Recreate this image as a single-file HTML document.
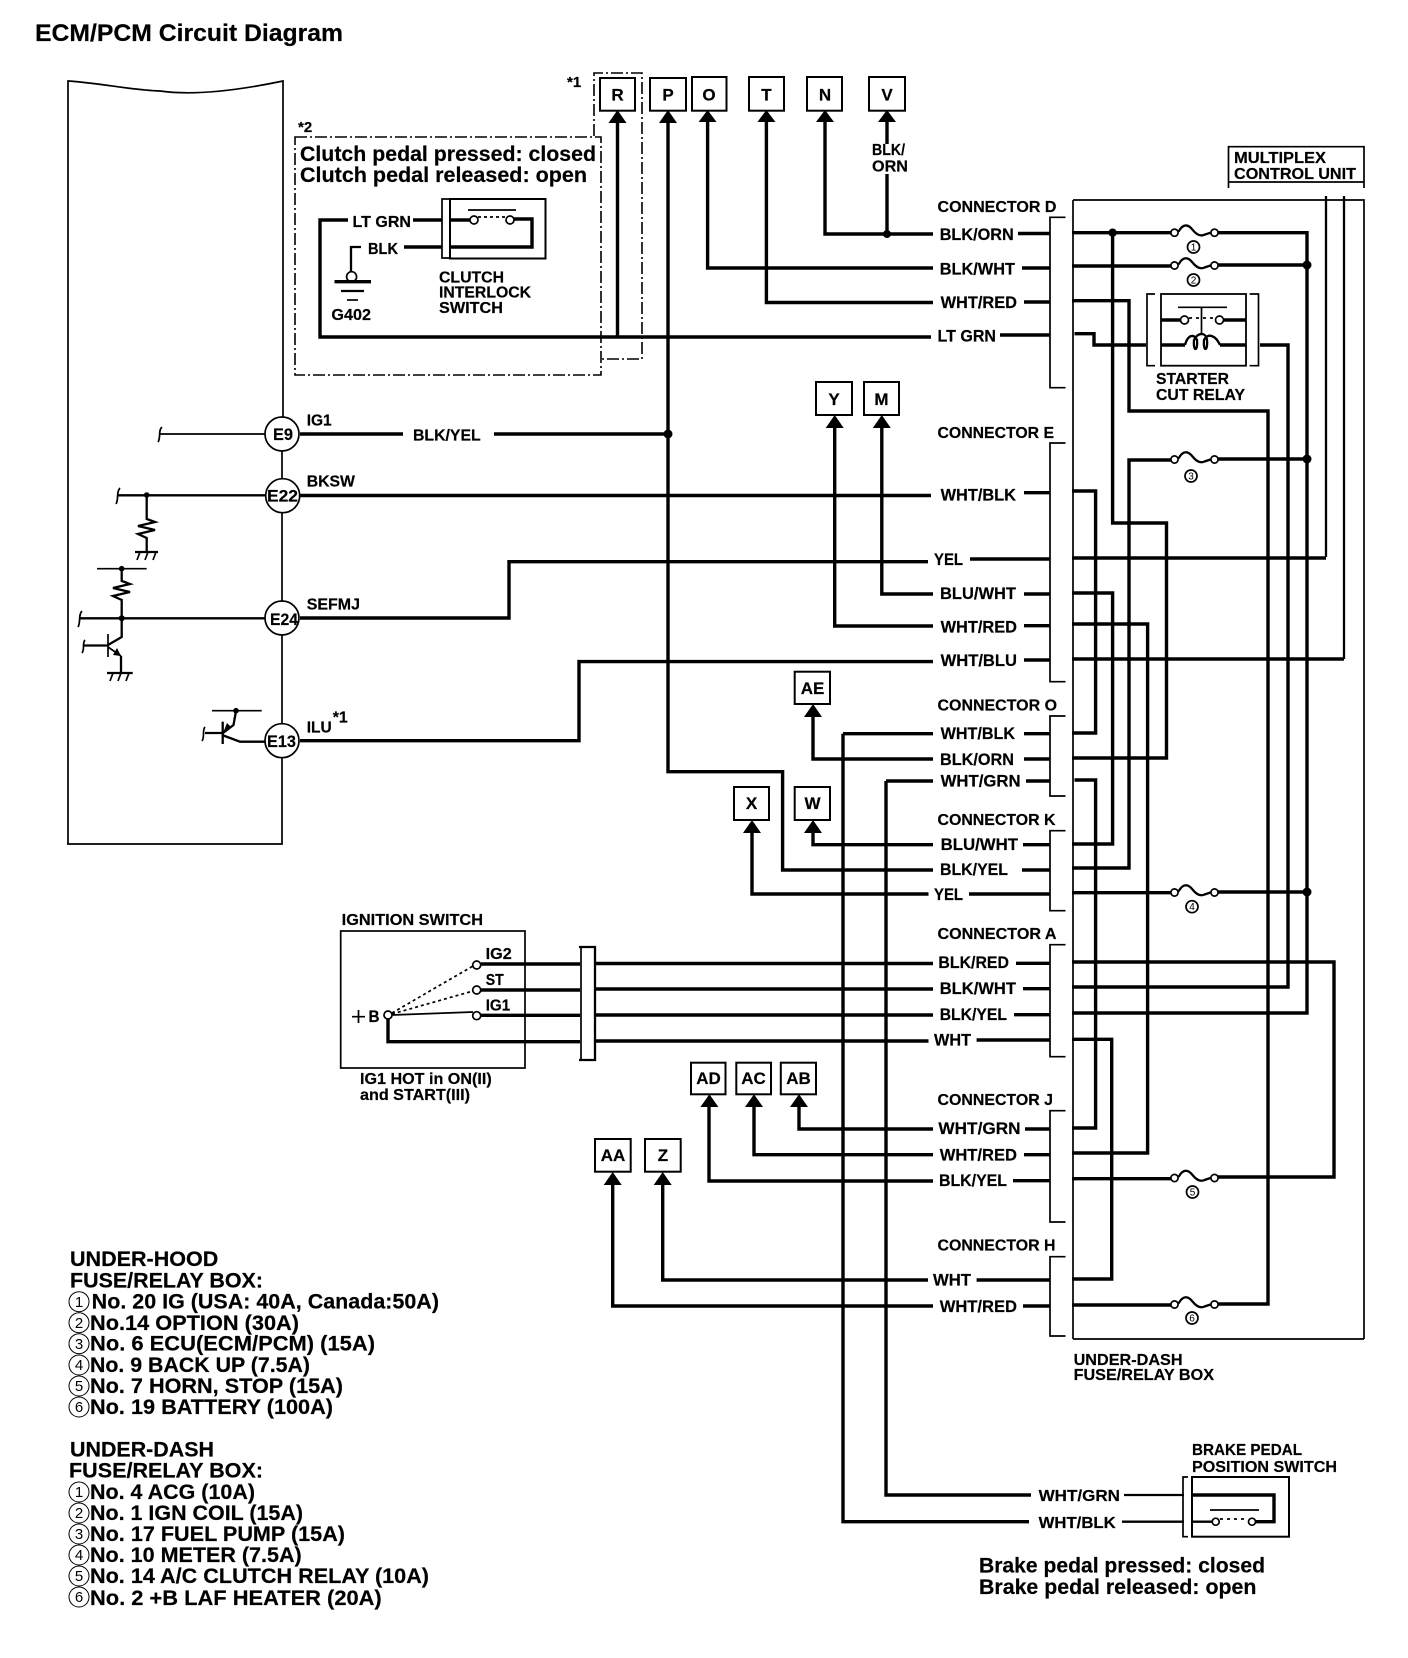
<!DOCTYPE html>
<html><head><meta charset="utf-8"><style>
html,body{margin:0;padding:0;background:#fff}
svg{display:block}
text{font-family:"Liberation Sans",sans-serif;font-weight:bold;fill:#000;stroke:#000;stroke-width:.2}
.w{fill:none;stroke:#000;stroke-width:3.4}
.m{fill:none;stroke:#000;stroke-width:2.3}
.n{fill:none;stroke:#000;stroke-width:1.7}
.d{fill:none;stroke:#000;stroke-width:1.6;stroke-dasharray:12 3 2 3}
.b{fill:#fff;stroke:#000;stroke-width:2}
.c{fill:#fff;stroke:#000;stroke-width:1.7}
.l{font-size:16px}
.s{font-size:17px}
.g{font-size:21px}
.q{font-weight:normal;font-size:10px;text-anchor:middle;stroke-width:0}
.q2{font-weight:normal;font-size:15px;text-anchor:middle;stroke-width:0}
.x{font-size:17px;text-anchor:middle}
</style></head><body>
<svg xmlns="http://www.w3.org/2000/svg" width="1408" height="1658" viewBox="0 0 1408 1658">
<rect width="1408" height="1658" fill="#fff"/>
<text x="35" y="41" font-size="24" textLength="308" lengthAdjust="spacingAndGlyphs">ECM/PCM Circuit Diagram</text>

<!-- ECM box -->
<path class="n" d="M68 844 V81 C100 83 130 90 160 91 C195 96 240 90 283 81 V417 M282 451 V478 M282 513 V601 M282 635 V724 M282 758 V844 H67"/>

<!-- Dashed boxes -->
<path class="d" d="M295 137 H601 V375 H295 Z"/>
<path class="d" d="M594 136 V73 H642 V359 H601"/>
<text x="567" y="87" font-size="15">*1</text>
<text x="298" y="132" font-size="15">*2</text>
<text x="300" y="161" font-size="21" textLength="296" lengthAdjust="spacingAndGlyphs">Clutch pedal pressed: closed</text>
<text x="300" y="182" font-size="21" textLength="287" lengthAdjust="spacingAndGlyphs">Clutch pedal released: open</text>

<!-- Clutch switch -->
<path class="w" d="M348 220 H320 V337 H931"/>
<path class="w" d="M413 220 H442 M404 247 H442"/>
<path class="n" d="M450 199 H442 V258 H450"/>
<rect x="450" y="199" width="95.5" height="59.5" fill="none" stroke="#000" stroke-width="2"/>
<path class="w" d="M450 220 H470 M514 219 H532 V247 H450"/>
<path class="n" d="M468 210 H516"/>
<path class="n" stroke-dasharray="3 3" d="M478 217 H506"/>
<circle class="c" cx="474" cy="220" r="4"/><circle class="c" cx="510" cy="220" r="4"/>
<path class="m" d="M361 247 H351 V272"/>
<circle class="c" cx="351.6" cy="276.7" r="5"/>
<path class="w" d="M334.5 281.7 H371"/><path class="m" d="M341 291 H364"/><path class="n" d="M347 300 H358"/>
<text x="352.5" y="227" class="l" textLength="58.5" lengthAdjust="spacingAndGlyphs">LT GRN</text>
<text x="368" y="254" class="l" textLength="30" lengthAdjust="spacingAndGlyphs">BLK</text>
<text x="331.4" y="320" class="l" textLength="39.6" lengthAdjust="spacingAndGlyphs">G402</text>
<text x="439" y="282.7" class="l" textLength="65" lengthAdjust="spacingAndGlyphs">CLUTCH</text>
<text x="439" y="297.7" class="l" textLength="92" lengthAdjust="spacingAndGlyphs">INTERLOCK</text>
<text x="439" y="313" class="l" textLength="64" lengthAdjust="spacingAndGlyphs">SWITCH</text>

<!-- Top wires -->
<path class="w" d="M617.5 120 V337"/>
<path class="w" d="M668 120 V771.7 H782.6 V870 H933"/>
<path class="w" d="M707.6 120 V268 H933"/>
<path class="w" d="M766.4 120 V302.5 H933"/>
<path class="w" d="M825 120 V234 H933"/>
<path class="w" d="M887 120 V144 M887 174 V234"/>
<circle cx="887" cy="234" r="4"/>
<circle cx="668" cy="434" r="4.5"/>
<text x="872" y="155" class="l" textLength="33" lengthAdjust="spacingAndGlyphs">BLK/</text>
<text x="872" y="171.7" class="l" textLength="36" lengthAdjust="spacingAndGlyphs">ORN</text>

<!-- Left-side wires -->
<path class="w" d="M300 434 H403 M494 434 H668"/>
<path class="w" d="M300 495.5 H931"/>
<path class="w" d="M300 618 H509 V561.7 H928"/>
<path class="w" d="M300 740.7 H579 V661.6 H933"/>
<path class="w" d="M834.7 425 V626 H933"/>
<path class="w" d="M881.8 425 V594 H933"/>
<path class="w" d="M813 715 V759 H933"/>
<path class="w" d="M843 733.7 H933 M843 733.7 V1521.7 H1029"/>
<path class="w" d="M886 781 H933 M886 781 V1495 H1031"/>
<path class="w" d="M813 832 V844.7 H933"/>
<path class="w" d="M752 832 V894 H928.5"/>
<path class="w" d="M709 1105 V1181 H933"/>
<path class="w" d="M754 1105 V1154.7 H933"/>
<path class="w" d="M799 1105 V1129 H933"/>
<path class="w" d="M662.7 1182 V1280 H928"/>
<path class="w" d="M612.7 1182 V1306 H933"/>

<!-- Ignition wires -->
<path class="w" d="M481 964 H580 M481 990 H580 M481 1015.3 H580 M388 1019 V1041.7 H580"/>
<path class="w" d="M595 963.5 H933 M595 989 H933 M595 1015 H933 M595 1041 H928.5"/>

<!-- Stubs -->
<path class="w" d="M1018 233.5 H1050 M1022 268 H1050 M1024 302 H1050 M1000 335 H1050
M1024 492.7 H1050 M970 559 H1050 M1024 594 H1050 M1024 625.7 H1050 M1024 660 H1050
M1024 733.7 H1050 M1024 759 H1050 M1026 781 H1050
M1023 844.7 H1050 M1022 870 H1050 M969 894 H1050
M1016 963.3 H1050 M1023 988.7 H1050 M1014 1014.7 H1050 M976.6 1040 H1050
M1025 1129 H1050 M1024 1154.7 H1050 M1013 1180.7 H1050
M976.6 1280 H1050 M1023 1306 H1050"/>

<!-- Connector brackets -->
<path class="n" d="M1065.5 217.3 H1050 V387.7 H1065.5 M1065.5 443 H1050 V681.7 H1065.5 M1065.5 716 H1050 V796 H1065.5 M1065.5 830.7 H1050 V910.7 H1065.5 M1065.5 944.7 H1050 V1056.7 H1065.5 M1065.5 1110.7 H1050 V1222 H1065.5 M1065.5 1256.7 H1050 V1336 H1065.5"/>

<!-- Fuse box -->
<path class="n" d="M1073 200 H1364 V1339"/>
<path class="n" d="M1073 200 V1339"/>
<path class="w" d="M1073 1339 H1364" style="stroke-width:1.8"/>
<path class="n" d="M1228.5 188 V146.7 H1364 V188 M1228.5 182 H1364"/>
<text x="1234" y="163" class="l" textLength="92" lengthAdjust="spacingAndGlyphs">MULTIPLEX</text>
<text x="1234" y="179" class="l" textLength="122" lengthAdjust="spacingAndGlyphs">CONTROL UNIT</text>

<!-- Inside fuse box wires -->
<path class="m" d="M1326 196 V557 M1344 196 V659"/>
<path class="w" d="M1072 232.7 H1171 M1218 232.7 H1307 V1013 H1072"/>
<path class="w" d="M1112.6 232.7 V523 H1166.5 V758 H1072"/>
<path class="w" d="M1072 266 H1171 M1218 265 H1307"/>
<path class="w" d="M1072 300.7 H1129 V411 H1268 V1304 H1218"/>
<path class="w" d="M1074.5 333.7 H1094 V345 H1146"/>
<path class="w" d="M1260 345 H1288 V987 H1072"/>
<path class="w" d="M1171 460 H1129 V868 H1072 M1218 459 H1307"/>
<path class="w" d="M1072 491 H1095.6 V733 H1072"/>
<path class="w" d="M1072 558 H1326"/>
<path class="w" d="M1072 593 H1112.6 V844 H1072"/>
<path class="w" d="M1072 624 H1147.6 V1153 H1072"/>
<path class="w" d="M1072 659 H1344"/>
<path class="w" d="M1074.5 780 H1095.6 V1128 H1072"/>
<path class="w" d="M1072 892.7 H1171 M1218 892 H1307"/>
<path class="w" d="M1072 962 H1334 V1177 H1218"/>
<path class="w" d="M1072 1178.7 H1171"/>
<path class="w" d="M1072 1039.3 H1111.7 V1279 H1072"/>
<path class="w" d="M1072 1305 H1171"/>
<circle cx="1112.6" cy="232.7" r="4.2"/>
<circle cx="1307" cy="265" r="4.5"/>
<circle cx="1307" cy="459" r="4.5"/>
<circle cx="1307" cy="892" r="4.5"/>

<!-- Fuses -->
<defs><g id="f"><path class="m" d="M4 -1 C9 -10 14 -8 18 -3 S26 4 30 2 L36 0"/><circle class="c" cx="0" cy="0" r="3.6"/><circle class="c" cx="40" cy="0" r="3.6"/></g></defs>
<use href="#f" x="1174.5" y="232.7"/><use href="#f" x="1174.5" y="265.5"/><use href="#f" x="1174.5" y="459.5"/><use href="#f" x="1174.5" y="892.5"/><use href="#f" x="1174.5" y="1178"/><use href="#f" x="1174.5" y="1304.5"/>
<g>
<circle class="n" cx="1193.5" cy="247" r="6"/><circle class="n" cx="1193.5" cy="280" r="6"/><circle class="n" cx="1191" cy="476" r="6"/><circle class="n" cx="1192" cy="906.7" r="6"/><circle class="n" cx="1192.5" cy="1192" r="6"/><circle class="n" cx="1192" cy="1318" r="6"/>
</g>
<text class="q" x="1193.5" y="250.5">1</text><text class="q" x="1193.5" y="283.5">2</text><text class="q" x="1191" y="479.5">3</text><text class="q" x="1192" y="910">4</text><text class="q" x="1192.5" y="1195.5">5</text><text class="q" x="1192" y="1321.5">6</text>

<!-- Relay -->
<path class="n" d="M1155 294 H1147 V365.7 H1155 M1249.6 294 H1258.5 V365.7 H1249.6"/>
<rect x="1161" y="294" width="85" height="71.7" fill="none" stroke="#000" stroke-width="1.8"/>
<path class="w" d="M1161 320 H1180 M1224 320 H1246 M1161 345 H1185 M1220 345 H1246"/>
<path class="n" d="M1178 307.3 H1227 M1201.5 307.3 V335"/>
<path class="n" stroke-dasharray="3 4" d="M1189 318 H1215"/>
<circle class="c" cx="1184.5" cy="320" r="4"/><circle class="c" cx="1219.5" cy="320" r="4"/>
<path class="m" d="M1185 345 C1188 334 1194 334 1197 340 C1198 352 1193 352 1194 340 C1198 332 1206 332 1207 340 C1208 352 1203 352 1204 340 C1208 332 1216 336 1220 345"/>
<text x="1156" y="384" class="l" textLength="73" lengthAdjust="spacingAndGlyphs">STARTER</text>
<text x="1156" y="400" class="l" textLength="89" lengthAdjust="spacingAndGlyphs">CUT RELAY</text>

<!-- Ignition switch -->
<text x="341.7" y="925" class="l" textLength="141.3" lengthAdjust="spacingAndGlyphs">IGNITION SWITCH</text>
<rect x="340.7" y="931" width="184.3" height="137" fill="none" stroke="#000" stroke-width="1.7"/>
<path d="M392 1013 L473 966 M392 1014 L473 991" fill="none" stroke="#000" stroke-width="1.7" stroke-dasharray="3 3"/>
<path class="n" d="M392 1015 L473 1012"/>
<circle class="c" cx="388" cy="1015" r="4"/><circle class="c" cx="476.7" cy="965" r="4"/><circle class="c" cx="476.7" cy="990" r="4"/><circle class="c" cx="476.7" cy="1015.7" r="4"/>
<text x="485.7" y="959" class="l" textLength="26" lengthAdjust="spacingAndGlyphs">IG2</text>
<text x="485.7" y="985" class="l" textLength="18" lengthAdjust="spacingAndGlyphs">ST</text>
<text x="485.7" y="1010.7" class="l" textLength="24.5" lengthAdjust="spacingAndGlyphs">IG1</text>
<path class="n" d="M352 1016.7 H365 M358.5 1010 V1023"/>
<text x="368.5" y="1022" font-size="17" textLength="11" lengthAdjust="spacingAndGlyphs">B</text>
<path class="n" d="M581 946.7 V1060"/>
<path class="m" d="M579 947 H595 V1060 H579"/>
<text x="360" y="1084" class="l" textLength="131.7" lengthAdjust="spacingAndGlyphs">IG1 HOT in ON(II)</text>
<text x="360" y="1100" class="l" textLength="110" lengthAdjust="spacingAndGlyphs">and START(III)</text>

<!-- ECM internals -->
<path class="n" d="M160 434 H265"/>
<path class="n" d="M162 427 C158 430 161 438 158 442"/>
<path class="m" d="M118 495.3 H265 M146.7 495 V519 L155 522 L138 526 L155 530 L138 534 L146.7 538 V551.7"/>
<path class="n" d="M120 488 C116 492 119 499 116 504"/>
<circle cx="146.7" cy="495" r="2.8"/>
<path class="m" d="M135 552 H158"/><path class="n" d="M140 552 L137 560 M148 552 L145 560 M156 552 L153 560"/>
<path class="n" d="M97 568.7 H146.7"/>
<circle cx="121.7" cy="568.7" r="2.8"/>
<path class="m" d="M121.7 568.7 V581 L130 584 L113 588 L130 592 L113 596 L121.7 600 V637 L108 645"/>
<path class="m" d="M80 618.3 H265"/>
<path class="n" d="M82 611 C78 615 81 622 78 627"/>
<circle cx="121.7" cy="618.3" r="3"/>
<path class="n" d="M108 634 V657"/>
<path class="m" d="M83 645.5 H108"/>
<path class="n" d="M85 640 C82 643 85 649 82 653"/>
<path class="n" d="M108 647 L121 656"/>
<polygon points="121,656 113,655 117,648"/>
<path class="m" d="M121 656 V672.7"/>
<path class="m" d="M107 673 H132.7"/><path class="n" d="M113 673 L110 681 M121 673 L118 681 M129 673 L126 681"/>
<path class="n" d="M212 710.7 H261.7"/>
<circle cx="236" cy="710.7" r="2.8"/>
<path class="m" d="M236 711 L233.5 725 L223 733"/>
<polygon points="223,733 231,727 227,723"/>
<path class="m" d="M222.7 721.7 V744"/>
<path class="m" d="M205 733 H222"/>
<path class="n" d="M205 727 C202 730 205 737 202 741"/>
<path class="m" d="M222 735 L240 741.7 H265"/>
<circle class="c" cx="282" cy="434" r="17"/><circle class="c" cx="282.7" cy="495.7" r="17"/><circle class="c" cx="282" cy="618" r="17"/><circle class="c" cx="282" cy="740.7" r="17"/>
<text x="273" y="440" class="s" textLength="20" lengthAdjust="spacingAndGlyphs">E9</text>
<text x="267" y="501.7" class="s" textLength="31" lengthAdjust="spacingAndGlyphs">E22</text>
<text x="270" y="625" class="s" textLength="28" lengthAdjust="spacingAndGlyphs">E24</text>
<text x="267" y="747" class="s" textLength="29" lengthAdjust="spacingAndGlyphs">E13</text>
<text x="306.7" y="425.7" class="l" textLength="25" lengthAdjust="spacingAndGlyphs">IG1</text>
<text x="413" y="440.7" class="l" textLength="67.7" lengthAdjust="spacingAndGlyphs">BLK/YEL</text>
<text x="306.7" y="486.7" class="l" textLength="48.3" lengthAdjust="spacingAndGlyphs">BKSW</text>
<text x="306.7" y="609.3" class="l" textLength="53.3" lengthAdjust="spacingAndGlyphs">SEFMJ</text>
<text x="306.7" y="732.3" class="l" textLength="25" lengthAdjust="spacingAndGlyphs">ILU</text>
<text x="332.7" y="722.7" class="l" textLength="15" lengthAdjust="spacingAndGlyphs">*1</text>

<!-- Boxes + arrows -->
<g>
<rect class="b" x="600" y="78" width="35" height="32.7"/><rect class="b" x="650" y="78" width="36" height="32.7"/><rect class="b" x="692" y="77" width="34.5" height="33.7"/><rect class="b" x="749" y="77" width="35" height="33.7"/><rect class="b" x="807" y="77" width="35" height="33.7"/><rect class="b" x="869" y="77" width="36" height="33.7"/>
<rect class="b" x="816" y="382" width="36" height="33"/><rect class="b" x="864" y="382" width="35" height="33"/>
<rect class="b" x="794.7" y="671.7" width="35.3" height="32.3"/><rect class="b" x="734" y="787" width="35" height="33"/><rect class="b" x="794.7" y="787" width="35.3" height="33"/>
<rect class="b" x="691" y="1062.7" width="34.5" height="31.6"/><rect class="b" x="736.3" y="1062.7" width="34.7" height="31.6"/><rect class="b" x="780.8" y="1062.7" width="35.2" height="31.6"/>
<rect class="b" x="595" y="1139" width="35.7" height="32.7"/><rect class="b" x="645" y="1139" width="35.7" height="32.7"/>
</g>
<g>
<polygon points="617.5,110 626.5,123 608.5,123"/><polygon points="668,110 677,123 659,123"/><polygon points="707.6,110 716.6,122 698.6,122"/><polygon points="766.4,110 775.4,122 757.4,122"/><polygon points="825,110 834,122 816,122"/><polygon points="887,110 896,122 878,122"/>
<polygon points="834.7,415 843.7,428 825.7,428"/><polygon points="881.8,415 890.8,428 872.8,428"/>
<polygon points="813,704 822,717 804,717"/><polygon points="752,820 761,833 743,833"/><polygon points="813,820 822,833 804,833"/>
<polygon points="709.4,1094.3 718.4,1107 700.4,1107"/><polygon points="754,1094.3 763,1107 745,1107"/><polygon points="799,1094.3 808,1107 790,1107"/>
<polygon points="612.7,1172 621.7,1185 603.7,1185"/><polygon points="662.7,1172 671.7,1185 653.7,1185"/>
</g>
<text class="x" x="617.5" y="100.7">R</text><text class="x" x="668" y="100.7">P</text><text class="x" x="709" y="100.7">O</text><text class="x" x="766.4" y="100.7">T</text><text class="x" x="825" y="100.7">N</text><text class="x" x="887" y="100.7">V</text>
<text class="x" x="834" y="405">Y</text><text class="x" x="881.5" y="405">M</text>
<text class="x" x="812.5" y="694">AE</text><text class="x" x="751.5" y="809">X</text><text class="x" x="812.5" y="809">W</text>
<text class="x" x="708.5" y="1084">AD</text><text class="x" x="753.5" y="1084">AC</text><text class="x" x="798.5" y="1084">AB</text>
<text class="x" x="613" y="1161">AA</text><text class="x" x="663" y="1161">Z</text>

<!-- Wire labels -->
<text x="937.5" y="212" class="l" textLength="119" lengthAdjust="spacingAndGlyphs">CONNECTOR D</text>
<text x="939.7" y="240" class="s" textLength="74" lengthAdjust="spacingAndGlyphs">BLK/ORN</text>
<text x="939.7" y="274.7" class="s" textLength="75.3" lengthAdjust="spacingAndGlyphs">BLK/WHT</text>
<text x="940.6" y="308" class="s" textLength="76.4" lengthAdjust="spacingAndGlyphs">WHT/RED</text>
<text x="937.5" y="341.7" class="s" textLength="58.5" lengthAdjust="spacingAndGlyphs">LT GRN</text>
<text x="937.5" y="438" class="l" textLength="116.5" lengthAdjust="spacingAndGlyphs">CONNECTOR E</text>
<text x="940.6" y="500.7" class="s" textLength="75.4" lengthAdjust="spacingAndGlyphs">WHT/BLK</text>
<text x="934" y="565" class="s" textLength="29" lengthAdjust="spacingAndGlyphs">YEL</text>
<text x="940" y="599" class="s" textLength="76" lengthAdjust="spacingAndGlyphs">BLU/WHT</text>
<text x="940.6" y="632.7" class="s" textLength="76.4" lengthAdjust="spacingAndGlyphs">WHT/RED</text>
<text x="940.6" y="666" class="s" textLength="76.4" lengthAdjust="spacingAndGlyphs">WHT/BLU</text>
<text x="937.5" y="710.7" class="l" textLength="119.5" lengthAdjust="spacingAndGlyphs">CONNECTOR O</text>
<text x="940.6" y="739" class="s" textLength="74.4" lengthAdjust="spacingAndGlyphs">WHT/BLK</text>
<text x="940" y="765" class="s" textLength="74" lengthAdjust="spacingAndGlyphs">BLK/ORN</text>
<text x="940.6" y="786.7" class="s" textLength="80" lengthAdjust="spacingAndGlyphs">WHT/GRN</text>
<text x="937.5" y="825" class="l" textLength="118" lengthAdjust="spacingAndGlyphs">CONNECTOR K</text>
<text x="940.6" y="850" class="s" textLength="77.4" lengthAdjust="spacingAndGlyphs">BLU/WHT</text>
<text x="940" y="875" class="s" textLength="68" lengthAdjust="spacingAndGlyphs">BLK/YEL</text>
<text x="934" y="900" class="s" textLength="29" lengthAdjust="spacingAndGlyphs">YEL</text>
<text x="937.5" y="939" class="l" textLength="119" lengthAdjust="spacingAndGlyphs">CONNECTOR A</text>
<text x="938.4" y="968" class="s" textLength="70.6" lengthAdjust="spacingAndGlyphs">BLK/RED</text>
<text x="939.7" y="994" class="s" textLength="76.3" lengthAdjust="spacingAndGlyphs">BLK/WHT</text>
<text x="939.7" y="1020" class="s" textLength="67.3" lengthAdjust="spacingAndGlyphs">BLK/YEL</text>
<text x="934" y="1045.7" class="s" textLength="37" lengthAdjust="spacingAndGlyphs">WHT</text>
<text x="937.5" y="1105" class="l" textLength="115.5" lengthAdjust="spacingAndGlyphs">CONNECTOR J</text>
<text x="938.4" y="1134" class="s" textLength="82.2" lengthAdjust="spacingAndGlyphs">WHT/GRN</text>
<text x="939.7" y="1160.7" class="s" textLength="77.3" lengthAdjust="spacingAndGlyphs">WHT/RED</text>
<text x="939" y="1186" class="s" textLength="68" lengthAdjust="spacingAndGlyphs">BLK/YEL</text>
<text x="937.5" y="1250.7" class="l" textLength="118" lengthAdjust="spacingAndGlyphs">CONNECTOR H</text>
<text x="933" y="1285.7" class="s" textLength="38" lengthAdjust="spacingAndGlyphs">WHT</text>
<text x="939.7" y="1312" class="s" textLength="77.3" lengthAdjust="spacingAndGlyphs">WHT/RED</text>
<text x="1073.6" y="1365" class="l" textLength="109" lengthAdjust="spacingAndGlyphs">UNDER-DASH</text>
<text x="1073.6" y="1380" class="l" textLength="140.4" lengthAdjust="spacingAndGlyphs">FUSE/RELAY BOX</text>

<!-- Brake switch -->
<text x="1192" y="1455" class="l" textLength="110" lengthAdjust="spacingAndGlyphs">BRAKE PEDAL</text>
<text x="1192" y="1472" class="l" textLength="145" lengthAdjust="spacingAndGlyphs">POSITION SWITCH</text>
<path class="n" d="M1188 1477 H1183 V1536.7 H1188"/>
<rect x="1192" y="1477" width="97" height="59.7" fill="none" stroke="#000" stroke-width="2"/>
<path class="w" d="M1192 1495 H1274 V1521.7 H1256"/>
<path class="m" d="M1124 1495 H1184 M1122 1521.7 H1184 M1192 1521.7 H1212"/>
<path class="n" d="M1210 1510 H1259"/>
<path class="n" stroke-dasharray="3 4" d="M1220 1519 H1248"/>
<circle class="c" cx="1215.7" cy="1521.7" r="3.5"/><circle class="c" cx="1252" cy="1521.7" r="3.5"/>
<text x="1038.6" y="1501" class="l" textLength="81.4" lengthAdjust="spacingAndGlyphs">WHT/GRN</text>
<text x="1038.6" y="1528" class="l" textLength="77.1" lengthAdjust="spacingAndGlyphs">WHT/BLK</text>
<text x="979" y="1572.7" font-size="21" textLength="286" lengthAdjust="spacingAndGlyphs">Brake pedal pressed: closed</text>
<text x="979" y="1594" font-size="21" textLength="277.4" lengthAdjust="spacingAndGlyphs">Brake pedal released: open</text>

<!-- Legend -->
<text x="70" y="1266" class="g" textLength="148.3" lengthAdjust="spacingAndGlyphs">UNDER-HOOD</text>
<text x="70" y="1287.7" class="g" textLength="193" lengthAdjust="spacingAndGlyphs">FUSE/RELAY BOX:</text>
<text x="91.7" y="1308.7" class="g" textLength="347.3" lengthAdjust="spacingAndGlyphs">No. 20 IG (USA: 40A, Canada:50A)</text>
<text x="90" y="1330" class="g" textLength="209" lengthAdjust="spacingAndGlyphs">No.14 OPTION (30A)</text>
<text x="90" y="1350.7" class="g" textLength="285" lengthAdjust="spacingAndGlyphs">No. 6 ECU(ECM/PCM) (15A)</text>
<text x="90" y="1372" class="g" textLength="220" lengthAdjust="spacingAndGlyphs">No. 9 BACK UP (7.5A)</text>
<text x="90" y="1393" class="g" textLength="253" lengthAdjust="spacingAndGlyphs">No. 7 HORN, STOP (15A)</text>
<text x="90" y="1414" class="g" textLength="243" lengthAdjust="spacingAndGlyphs">No. 19 BATTERY (100A)</text>
<text x="70" y="1456.7" class="g" textLength="144" lengthAdjust="spacingAndGlyphs">UNDER-DASH</text>
<text x="69" y="1477.7" class="g" textLength="194" lengthAdjust="spacingAndGlyphs">FUSE/RELAY BOX:</text>
<text x="90" y="1499" class="g" textLength="165" lengthAdjust="spacingAndGlyphs">No. 4 ACG (10A)</text>
<text x="90" y="1520" class="g" textLength="213" lengthAdjust="spacingAndGlyphs">No. 1 IGN COIL (15A)</text>
<text x="90" y="1541" class="g" textLength="255" lengthAdjust="spacingAndGlyphs">No. 17 FUEL PUMP (15A)</text>
<text x="90" y="1562" class="g" textLength="211.7" lengthAdjust="spacingAndGlyphs">No. 10 METER (7.5A)</text>
<text x="90" y="1583" class="g" textLength="339" lengthAdjust="spacingAndGlyphs">No. 14 A/C CLUTCH RELAY (10A)</text>
<text x="90" y="1605" class="g" textLength="291.7" lengthAdjust="spacingAndGlyphs">No. 2 +B LAF HEATER (20A)</text>
<g fill="none" stroke="#000" stroke-width="1">
<circle cx="79" cy="1301.7" r="10"/><circle cx="79" cy="1322.7" r="10"/><circle cx="79" cy="1343.7" r="10"/><circle cx="79" cy="1365" r="10"/><circle cx="79" cy="1386" r="10"/><circle cx="79" cy="1407" r="10"/>
<circle cx="79" cy="1492" r="10"/><circle cx="79" cy="1513" r="10"/><circle cx="79" cy="1534" r="10"/><circle cx="79" cy="1555" r="10"/><circle cx="79" cy="1576" r="10"/><circle cx="79" cy="1597" r="10"/>
</g>
<text class="q2" x="79" y="1307">1</text><text class="q2" x="79" y="1328">2</text><text class="q2" x="79" y="1349">3</text><text class="q2" x="79" y="1370">4</text><text class="q2" x="79" y="1391">5</text><text class="q2" x="79" y="1412">6</text>
<text class="q2" x="79" y="1497">1</text><text class="q2" x="79" y="1518">2</text><text class="q2" x="79" y="1539">3</text><text class="q2" x="79" y="1560">4</text><text class="q2" x="79" y="1581">5</text><text class="q2" x="79" y="1602">6</text>
</svg>
</body></html>
